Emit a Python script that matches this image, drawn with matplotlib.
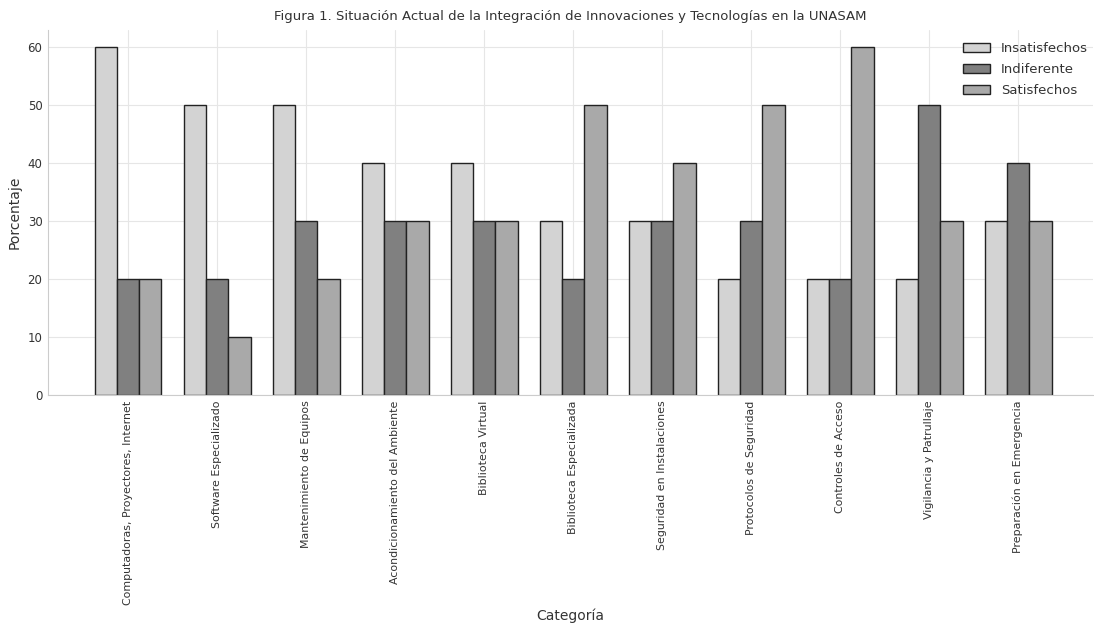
import numpy as np
import matplotlib.pyplot as plt
import seaborn as sns

# -------------------------------------------------------------------------
# DATA
# -------------------------------------------------------------------------
categorias = [
    'Computadoras, Proyectores, Internet', 'Software Especializado',
    'Mantenimiento de Equipos', 'Acondicionamiento del Ambiente',
    'Biblioteca Virtual', 'Biblioteca Especializada',
    'Seguridad en Instalaciones', 'Protocolos de Seguridad',
    'Controles de Acceso', 'Vigilancia y Patrullaje',
    'Preparación en Emergencia'
]
insatisfechos = [60, 50, 50, 40, 40, 30, 30, 20, 20, 20, 30]
indiferente = [20, 20, 30, 30, 30, 20, 30, 30, 20, 50, 40]
satisfechos = [20, 10, 20, 30, 30, 50, 40, 50, 60, 30, 30]

sns.set_style("whitegrid")
plt.rcParams['font.family'] = ['DejaVu Sans']

fig = plt.figure(figsize=(10.94, 6.24), dpi=100)
ax = fig.add_axes([48 / 1094, 1 - 395 / 624, (1093 - 48) / 1094, (395 - 30) / 624])

x = np.arange(len(categorias))
w = 0.25
ax.bar(x - w, insatisfechos, w, label='Insatisfechos', color='#d3d3d3', edgecolor='#222222', linewidth=1)
ax.bar(x, indiferente, w, label='Indiferente', color='#808080', edgecolor='#222222', linewidth=1)
ax.bar(x + w, satisfechos, w, label='Satisfechos', color='#a9a9a9', edgecolor='#222222', linewidth=1)

ax.set_xticks(x)
ax.set_xticklabels(categorias, rotation=90, fontsize=7.9, color='#333333')
ax.tick_params(axis='y', labelsize=8.5, colors='#333333')
ax.tick_params(axis='both', length=0, pad=4)
ax.set_xlim(-0.9, 10.84)
ax.set_ylim(0, 63)
ax.set_yticks(range(0, 61, 10))

ax.grid(True, color='#e6e6e6', linewidth=0.8)
ax.set_axisbelow(True)
for s in ['top', 'right']:
    ax.spines[s].set_visible(False)
for s in ['left', 'bottom']:
    ax.spines[s].set_color('#cccccc')

ax.set_title('Figura 1. Situación Actual de la Integración de Innovaciones y Tecnologías en la UNASAM',
             fontsize=9.5, color='#333333', pad=7)
ax.set_ylabel('Porcentaje', fontsize=10, color='#333333')
ax.set_xlabel('Categoría', fontsize=10, color='#333333', labelpad=3)

ax.legend(loc='upper right', bbox_to_anchor=(1.004, 0.992), frameon=False, fontsize=9.5,
          handlelength=2.05, labelspacing=0.6, labelcolor='#333333', borderaxespad=0.3)

fig.savefig('out.png', dpi=100)
